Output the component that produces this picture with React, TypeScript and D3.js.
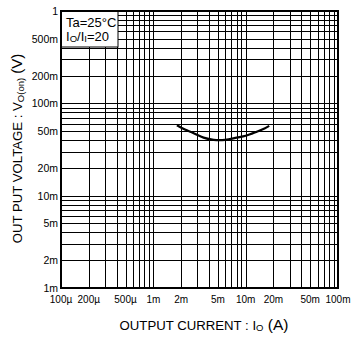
import React from "react";
import * as d3 from "d3";

const xTickValues = [0.0001, 0.0002, 0.0005, 0.001, 0.002, 0.005, 0.01, 0.02, 0.05, 0.1];
const xTickLabels = ["100µ", "200µ", "500µ", "1m", "2m", "5m", "10m", "20m", "50m", "100m"];
const yTickValues = [0.001, 0.002, 0.005, 0.01, 0.02, 0.05, 0.1, 0.2, 0.5, 1];
const yTickLabels = ["1m", "2m", "5m", "10m", "20m", "50m", "100m", "200m", "500m", "1"];
const curveX = [0.0018, 0.0022, 0.0027, 0.0035, 0.0045, 0.006, 0.008, 0.01, 0.013, 0.016, 0.018];
const curveY = [0.058, 0.052, 0.0478, 0.0425, 0.0402, 0.0402, 0.0425, 0.0445, 0.049, 0.0535, 0.057];

const W = 353, H = 337;
const L = 61, R = 338, T = 11, B = 288;

function minorTicks(lo: number, hi: number) {
  const out: number[] = [];
  for (let e = Math.round(Math.log10(lo)); e < Math.round(Math.log10(hi)); e++) {
    for (let m = 1; m <= 9; m++) out.push(m * Math.pow(10, e));
  }
  return out;
}

export default function App() {
  const x = d3.scaleLog().domain([0.0001, 0.1]).range([L, R]);
  const y = d3.scaleLog().domain([0.001, 1]).range([B, T]);
  const line = d3.line<number>().x((_, i) => x(curveX[i])).y((d) => y(d)).curve(d3.curveCatmullRom);
  const font = "Liberation Sans, Arial, sans-serif";
  return (
    <svg width={W} height={H} style={{ position: "absolute", left: 0, top: 0, background: "#fff" }}>
      <rect x={0} y={0} width={W} height={H} fill="#fff" />
      {minorTicks(0.0001, 0.1).slice(1).map((v, i) => (
        <line key={"gx" + i} x1={Math.round(x(v)) + 0.5} x2={Math.round(x(v)) + 0.5} y1={T} y2={B} stroke="#000" strokeWidth={1} />
      ))}
      {minorTicks(0.001, 1).slice(1).map((v, i) => (
        <line key={"gy" + i} x1={L} x2={R} y1={Math.round(y(v)) + 0.5} y2={Math.round(y(v)) + 0.5} stroke="#000" strokeWidth={1} />
      ))}
      <path d={line(curveY) || ""} fill="none" stroke="#000" strokeWidth={2.2} />
      <rect x={L} y={T} width={57} height={36} fill="#fff" stroke="#000" strokeWidth={1} />
      <text x={66} y={27} fontFamily={font} fontSize={13}>Ta=25°C</text>
      <text x={66} y={41} fontFamily={font} fontSize={13}>
        I<tspan fontSize={9.5} dy={1}>O</tspan><tspan dy={-1}>/I</tspan><tspan fontSize={9.5} dy={1}>I</tspan><tspan dy={-1}>=20</tspan>
      </text>
      <rect x={L} y={T} width={R - L} height={B - T} fill="none" stroke="#000" strokeWidth={2} />
      {yTickValues.map((v, i) => (
        <text key={"yt" + i} x={58} y={y(v) + 4} textAnchor="end" fontFamily={font} fontSize={10.5}>{yTickLabels[i]}</text>
      ))}
      {xTickValues.map((v, i) => (
        <text key={"xt" + i} x={x(v)} y={303} textAnchor="middle" fontFamily={font} fontSize={10}>{xTickLabels[i]}</text>
      ))}
      <text x={204} y={330} textAnchor="middle" fontFamily={font} fontSize={13.2}>
        OUTPUT CURRENT : I<tspan fontSize={9.5} dy={1}>O</tspan><tspan dy={-1} fontSize={15.5}> (A)</tspan>
      </text>
      <text transform={`translate(22,148.5) rotate(-90)`} textAnchor="middle" fontFamily={font} fontSize={13.2}>
        OUT PUT VOLTAGE : V<tspan fontSize={9.5} dy={2}>O(on)</tspan><tspan dy={-2} fontSize={15}> (V)</tspan>
      </text>
    </svg>
  );
}
